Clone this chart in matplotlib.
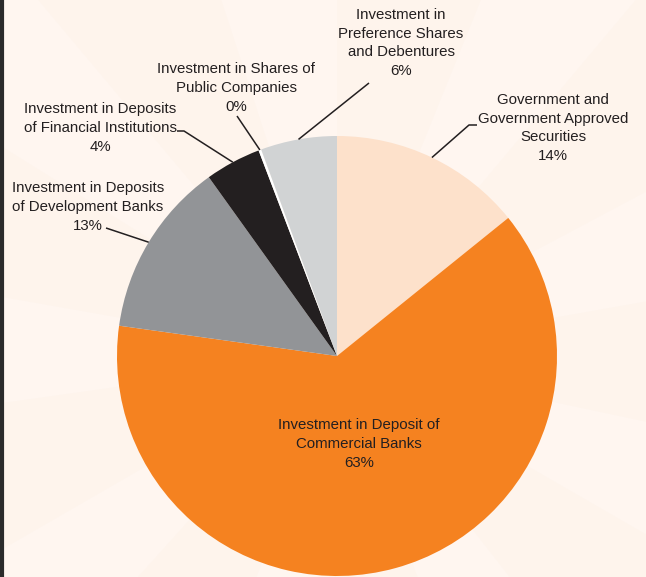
import numpy as np
import matplotlib.pyplot as plt
from matplotlib.patches import Wedge

W, H = 646, 577

# shares of investment portfolio (%), clockwise from 12 o'clock
categories = [
    "Government and\nGovernment Approved\nSecurities",
    "Investment in Deposit of\nCommercial Banks",
    "Investment in Deposits\nof Development Banks",
    "Investment in Deposits\nof Financial Institutions",
    "Investment in Shares of\nPublic Companies",
    "Investment in\nPreference Shares\nand Debentures",
]
shares = [14.2, 63.0, 12.9, 4.1, 0.2, 5.6]
pct_labels = ["14%", "63%", "13%", "4%", "0%", "6%"]
colors = ["#FDE1CB", "#F58220", "#929497", "#231F20", "#FFFFFF", "#D1D3D4"]

plt.rcParams['font.family'] = ['Liberation Sans', 'DejaVu Sans']
TXT = "#231F20"
BG = "#FEF4EC"

fig = plt.figure(figsize=(W / 100, H / 100), dpi=100, facecolor=BG)
ax = fig.add_axes([0, 0, 1, 1])


def yy(y_img):
    return H - y_img


cx, cy, R = 337, yy(356), 220

# very faint sunburst behind the pie
for a0 in range(10, 370, 40):
    ax.add_patch(Wedge((cx, cy), 900, a0, a0 + 18, facecolor="#FFF6F0",
                       edgecolor="none", zorder=0))

wedges, _ = ax.pie(shares, colors=colors, startangle=90, counterclock=False,
                   center=(cx, cy), radius=R, frame=True,
                   wedgeprops=dict(linewidth=0, zorder=2))
ax.set_xlim(0, W)
ax.set_ylim(0, H)
ax.axis("off")


def edge_point(w, r_scale=1.0):
    mid = np.deg2rad((w.theta1 + w.theta2) / 2)
    return cx + R * r_scale * np.cos(mid), cy + R * r_scale * np.sin(mid)


# label placement: (text centre x, text centre y, leader path in image px)
layout = {
    0: ((553, 128), [(469, 125), (477, 125)]),
    2: ((88, 207), [(106, 228)]),
    3: ((100, 128), [(184, 131), (177, 131)]),
    4: ((236, 88), [(237, 116)]),
    5: ((401, 43), [(369, 83)]),
}

fs = 10.8
ls = 1.42
for i, ((tx, ty), path) in layout.items():
    ax.text(tx, yy(ty), categories[i] + "\n" + pct_labels[i], ha="center",
            va="center", fontsize=fs, color=TXT, linespacing=ls, zorder=5)
    sx, sy = edge_point(wedges[i], 1.0)
    xs = [sx] + [p[0] for p in path]
    ys = [sy] + [yy(p[1]) for p in path]
    ax.plot(xs, ys, color=TXT, lw=1.1, zorder=4, solid_capstyle="butt")

# inside label for commercial banks
ax.text(359, yy(444), categories[1] + "\n" + pct_labels[1], ha="center",
        va="center", fontsize=fs, color=TXT, linespacing=ls, zorder=5)

# dark left border
ax.axvline(1.5, color="#2B2B2B", lw=3, zorder=6)

fig.savefig("out.png", dpi=100, facecolor=BG)
